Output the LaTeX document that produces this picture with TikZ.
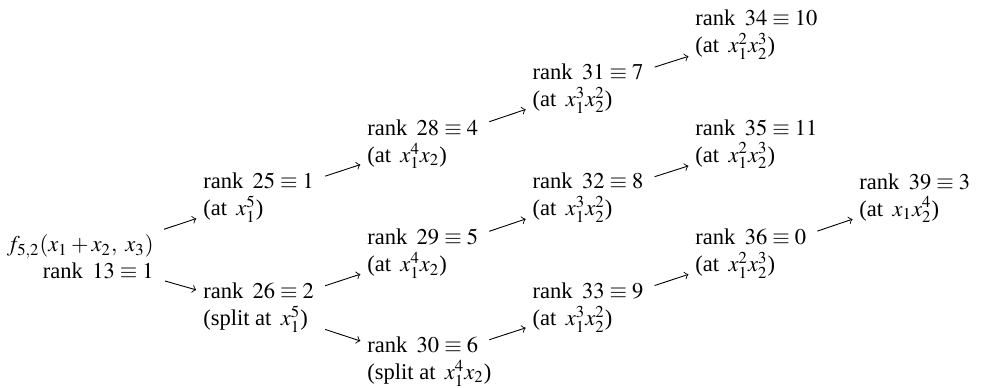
\documentclass[tikz,border=0pt]{standalone}
\usepackage{mathptmx}
\usepackage{fontspec}
\setmainfont{Liberation Serif}
\usepackage{amssymb}
\usepackage{tikz}

\begin{document}
\begin{tikzpicture}[rk/.style={anchor=west,align=left,inner sep=1pt},
	arr/.style={->,shorten >=2pt,shorten <=4pt}]
		\useasboundingbox (0,0) rectangle (15.34,6.04);
		
		\node [anchor=east,align=right,inner sep=1pt] (f) at (2.44,2.03) {$f_{5,2}(x_1+x_2,\ x_3)$\\rank\ \,$13 \equiv 1$};
		
		\node [rk] (r25) at (3.13,2.95) {rank\ \,$25 \equiv 1$\\(at\ \,$x_1^5$)};
		\node [rk] (r26) at (3.13,1.24) {rank\ \,$26 \equiv 2$\\(split at\ \,$x_1^5$)};
		
		\node [rk] (r28) at (5.69,3.79) {rank\ \,$28 \equiv 4$\\(at\ \,$x_1^4x_2$)};
		\node [rk] (r29) at (5.69,2.08) {rank\ \,$29 \equiv 5$\\(at\ \,$x_1^4x_2$)};
		\node [rk] (r30) at (5.69,0.40) {rank\ \,$30 \equiv 6$\\\rlap{(split at\ \,$x_1^4x_2$)}};
		
		\node [rk] (r31) at (8.27,4.66) {rank\ \,$31 \equiv 7$\\(at\ \,$x_1^3x_2^2$)};
		\node [rk] (r32) at (8.27,2.95) {rank\ \,$32 \equiv 8$\\(at\ \,$x_1^3x_2^2$)};
		\node [rk] (r33) at (8.27,1.24) {rank\ \,$33 \equiv 9$\\(at\ \,$x_1^3x_2^2$)};
		
		\node [rk] (r34) at (10.81,5.50) {rank\ \,$34 \equiv 10$\\(at\ \,$x_1^2x_2^3$)};
		\node [rk] (r35) at (10.81,3.79) {rank\ \,$35 \equiv 11$\\(at\ \,$x_1^2x_2^3$)};
		\node [rk] (r36) at (10.81,2.08) {rank\ \,$36 \equiv 0$\\(at\ \,$x_1^2x_2^3$)};
		
		\node [rk] (r39) at (13.37,2.95) {rank\ \,$39 \equiv 3$\\(at\ \,$x_1x_2^4$)};
		
		\draw [arr] (f) to (r25);
		\draw [arr] (f) to (r26);
		\draw [arr] (r25) to (r28);
		\draw [arr] (r26) to (r29);
		\draw [arr] (r26) to (r30);
		\draw [arr] (r28) to (r31);
		\draw [arr] (r29) to (r32);
		\draw [arr] (r30) to (r33);
		\draw [arr] (r31) to (r34);
		\draw [arr] (r32) to (r35);
		\draw [arr] (r33) to (r36);
		\draw [arr] (r36) to (r39);
		
	\end{tikzpicture}
\end{document}
